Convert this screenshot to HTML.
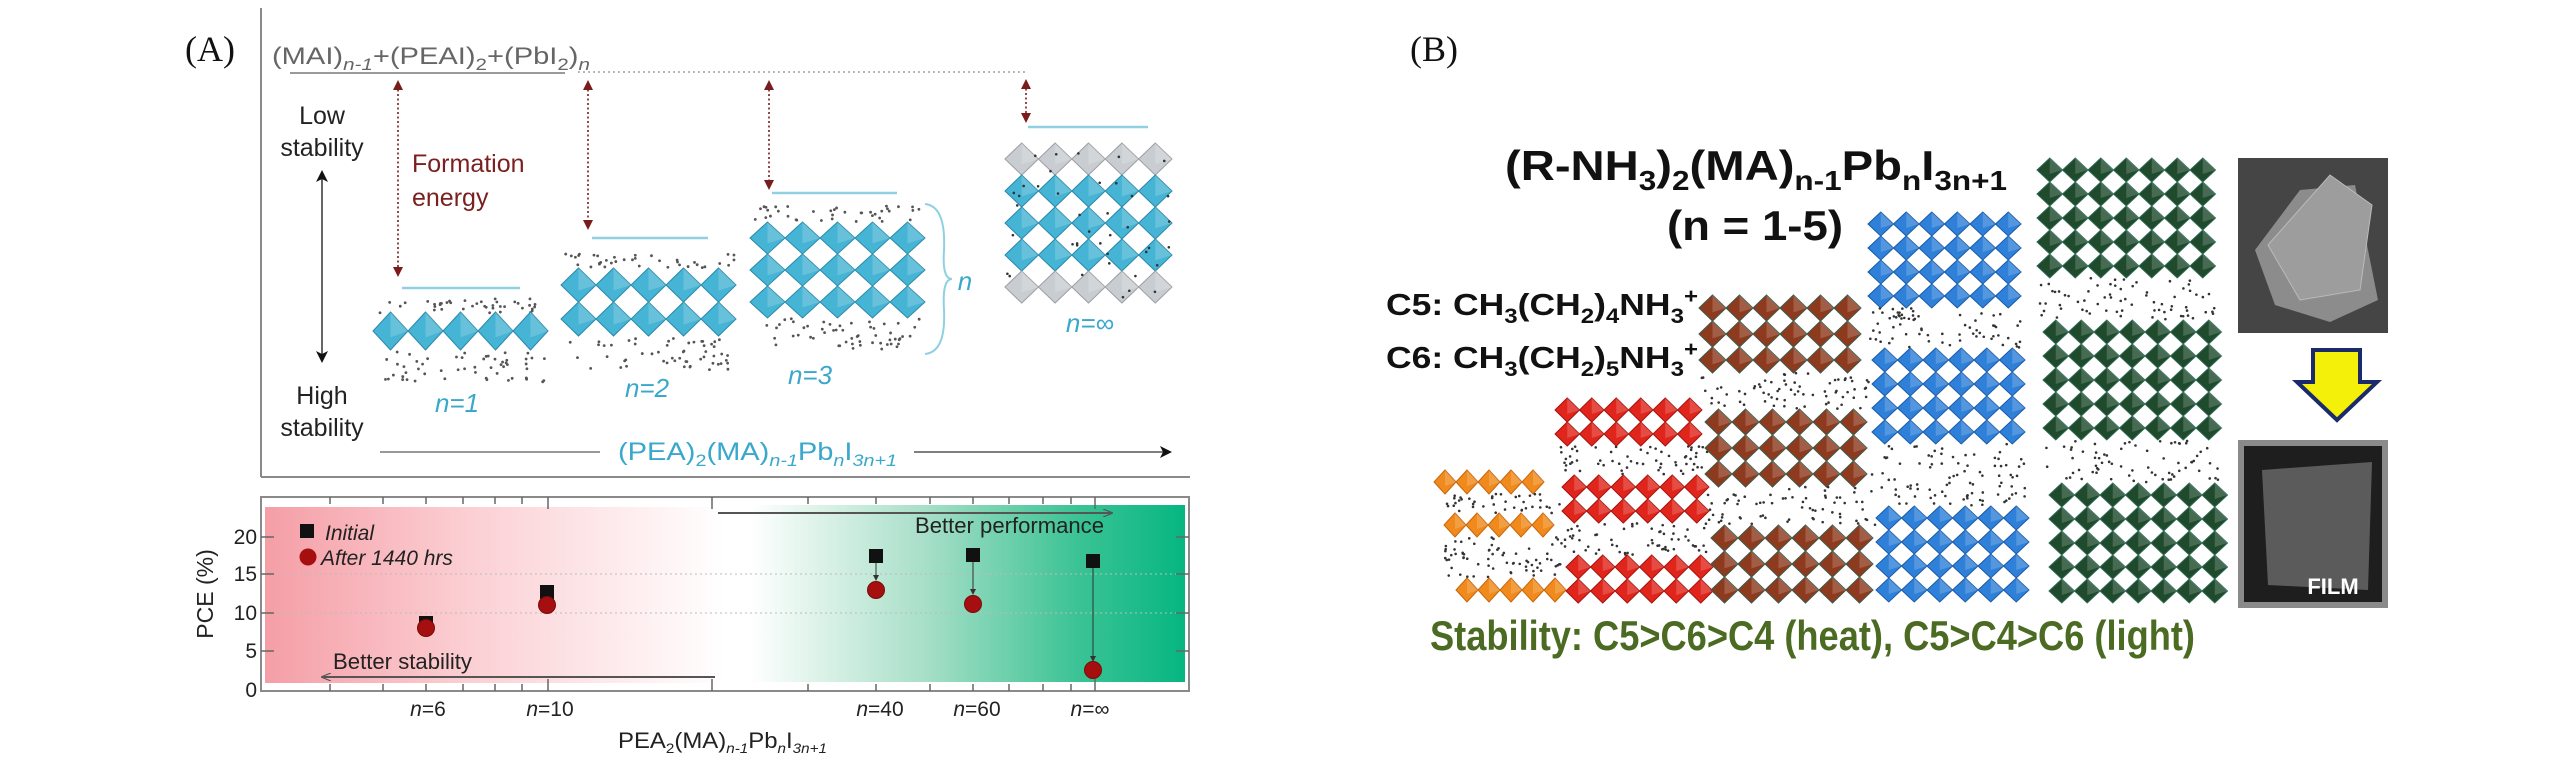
<!DOCTYPE html>
<html><head><meta charset="utf-8">
<style>
html,body{margin:0;padding:0;background:#fff;}
svg{display:block;}
text{font-family:"Liberation Sans",Arial,sans-serif;}
.serif{font-family:"Liberation Serif","Times New Roman",serif;}
</style></head>
<body>
<svg id="s" xmlns="http://www.w3.org/2000/svg" width="2567" height="776" viewBox="0 0 2567 776">
<defs>
<linearGradient id="pink" gradientUnits="userSpaceOnUse" x1="265" y1="0" x2="725" y2="0">
<stop offset="0" stop-color="#f59ea6"/><stop offset="0.45" stop-color="#fbd0d4"/><stop offset="1" stop-color="#ffffff"/>
</linearGradient>
<linearGradient id="green" gradientUnits="userSpaceOnUse" x1="750" y1="0" x2="1185" y2="0">
<stop offset="0" stop-color="#ffffff"/><stop offset="0.4" stop-color="#a8dfc8"/><stop offset="0.75" stop-color="#3cc395"/><stop offset="1" stop-color="#06b681"/>
</linearGradient>
<marker id="ar" markerWidth="10" markerHeight="10" refX="5" refY="5" orient="auto-start-reverse" markerUnits="userSpaceOnUse">
<path d="M0,0 L10,5 L0,10 z" fill="#7b1c1c"/></marker>
<marker id="ak" markerWidth="12" markerHeight="12" refX="6" refY="6" orient="auto-start-reverse" markerUnits="userSpaceOnUse">
<path d="M0,0 L12,6 L0,12 L3,6 z" fill="#111"/></marker>
<marker id="ag" markerWidth="10" markerHeight="8" refX="9" refY="4" orient="auto" markerUnits="userSpaceOnUse">
<path d="M0,0 L10,4 L0,8" fill="none" stroke="#555" stroke-width="1.2"/></marker>
<marker id="as" markerWidth="6" markerHeight="6" refX="3" refY="3" orient="auto" markerUnits="userSpaceOnUse">
<path d="M0,0 L6,3 L0,6 z" fill="#333"/></marker>
</defs>

<text class="serif" x="185" y="61" font-size="36" fill="#111">(A)</text>
<text class="serif" x="1410" y="61" font-size="36" fill="#111">(B)</text>

<line x1="261" y1="8" x2="261" y2="477" stroke="#8a8a8a" stroke-width="2"/>
<line x1="261" y1="477" x2="1190" y2="477" stroke="#8a8a8a" stroke-width="2"/>

<text x="272" y="64" font-size="24" fill="#666" textLength="318" lengthAdjust="spacingAndGlyphs">(MAI)<tspan font-size="17" font-style="italic" dy="6">n-1</tspan><tspan dy="-6">+(PEAI)</tspan><tspan font-size="17" dy="6">2</tspan><tspan dy="-6">+(PbI</tspan><tspan font-size="17" dy="6">2</tspan><tspan dy="-6">)</tspan><tspan font-size="17" font-style="italic" dy="6">n</tspan></text>
<line x1="290" y1="73" x2="565" y2="73" stroke="#9a9a9a" stroke-width="2"/>
<line x1="578" y1="72" x2="1028" y2="72" stroke="#a0a0a0" stroke-width="1.5" stroke-dasharray="2,3"/>

<g stroke="#7b1c1c" stroke-width="1.6" stroke-dasharray="2,2.5" marker-start="url(#ar)" marker-end="url(#ar)">
<line x1="398" y1="85" x2="398" y2="272"/>
<line x1="588" y1="85" x2="588" y2="225"/>
<line x1="769" y1="85" x2="769" y2="185"/>
<line x1="1026" y1="84" x2="1026" y2="118"/>
</g>
<g stroke="#8fd0e3" stroke-width="2.5">
<line x1="402" y1="288" x2="520" y2="288"/>
<line x1="592" y1="238" x2="708" y2="238"/>
<line x1="772" y1="193" x2="897" y2="193"/>
<line x1="1028" y1="127" x2="1148" y2="127"/>
</g>
<text x="412" y="172" font-size="25" fill="#7b2020">Formation</text>
<text x="412" y="206" font-size="25" fill="#7b2020">energy</text>

<g font-size="25" fill="#222" text-anchor="middle">
<text x="322" y="124">Low</text><text x="322" y="156">stability</text>
<text x="322" y="404">High</text><text x="322" y="436">stability</text>
</g>
<line x1="322" y1="176" x2="322" y2="357" stroke="#333" stroke-width="1.5" marker-start="url(#ak)" marker-end="url(#ak)"/>

<g id="structA"></g>

<g font-size="26" fill="#3aa8cc" font-style="italic" text-anchor="middle">
<text x="457" y="412">n=1</text>
<text x="647" y="397">n=2</text>
<text x="810" y="384">n=3</text>
<text x="1090" y="332">n=∞</text>
<text x="965" y="290">n</text>
</g>
<path d="M925,204 Q946,206 944,250 Q942,279 952,279 Q942,279 944,310 Q946,352 925,354" fill="none" stroke="#8fd0e3" stroke-width="2"/>

<line x1="380" y1="452" x2="600" y2="452" stroke="#777" stroke-width="1.5"/>
<text x="618" y="460" font-size="25" fill="#3aa8cc" textLength="279" lengthAdjust="spacingAndGlyphs">(PEA)<tspan font-size="17" dy="6">2</tspan><tspan dy="-6">(MA)</tspan><tspan font-size="17" font-style="italic" dy="6">n-1</tspan><tspan dy="-6">Pb</tspan><tspan font-size="17" font-style="italic" dy="6">n</tspan><tspan dy="-6">I</tspan><tspan font-size="17" font-style="italic" dy="6">3n+1</tspan></text>
<line x1="914" y1="452" x2="1166" y2="452" stroke="#555" stroke-width="1.5" marker-end="url(#ak)"/>

<rect x="265" y="507" width="460" height="176" fill="url(#pink)"/>
<rect x="750" y="505" width="435" height="177" fill="url(#green)"/>
<rect x="261" y="497" width="928" height="194" fill="none" stroke="#8a8a8a" stroke-width="2"/>
<g stroke="#bbb" stroke-width="1" stroke-dasharray="2,3">
<line x1="265" y1="574" x2="1185" y2="574"/>
<line x1="265" y1="613" x2="1185" y2="613"/>
</g>
<g id="ticks" stroke="#666" stroke-width="1.5"></g>
<g font-size="21" fill="#222" text-anchor="end">
<text x="257" y="544">20</text><text x="257" y="581">15</text><text x="257" y="620">10</text><text x="257" y="658">5</text><text x="257" y="697">0</text>
</g>
<text x="0" y="0" font-size="23" fill="#222" text-anchor="middle" transform="translate(213,594) rotate(-90)">PCE (%)</text>

<line x1="718" y1="513" x2="1112" y2="513" stroke="#555" stroke-width="2" marker-end="url(#ag)"/>
<text x="915" y="533" font-size="22" fill="#222" textLength="189" lengthAdjust="spacingAndGlyphs">Better performance</text>
<line x1="715" y1="677" x2="322" y2="677" stroke="#555" stroke-width="2" marker-end="url(#ag)"/>
<text x="333" y="669" font-size="22" fill="#222" textLength="139" lengthAdjust="spacingAndGlyphs">Better stability</text>

<rect x="300" y="524" width="14" height="14" fill="#111"/>
<text x="325" y="540" font-size="21" font-style="italic" fill="#222">Initial</text>
<circle cx="308" cy="557" r="8.5" fill="#a50f0f"/>
<text x="321" y="565" font-size="21" font-style="italic" fill="#222">After 1440 hrs</text>

<g stroke="#333" stroke-width="1">
<line x1="876" y1="563" x2="876" y2="578" marker-end="url(#as)"/>
<line x1="973" y1="562" x2="973" y2="592" marker-end="url(#as)"/>
<line x1="1093" y1="568" x2="1093" y2="659" marker-end="url(#as)"/>
</g>
<g fill="#111">
<rect x="419" y="616" width="14" height="14"/>
<rect x="540" y="585" width="14" height="14"/>
<rect x="869" y="549" width="14" height="14"/>
<rect x="966" y="548" width="14" height="14"/>
<rect x="1086" y="554" width="14" height="14"/>
</g>
<g fill="#a50f0f" stroke="#7a0a0a" stroke-width="1">
<circle cx="426" cy="628" r="8.5"/>
<circle cx="547" cy="605" r="8.5"/>
<circle cx="876" cy="590" r="8.5"/>
<circle cx="973" cy="604" r="8.5"/>
<circle cx="1093" cy="670" r="8.5"/>
</g>
<g font-size="21" fill="#222" text-anchor="middle">
<text x="428" y="716"><tspan font-style="italic">n</tspan>=6</text>
<text x="550" y="716"><tspan font-style="italic">n</tspan>=10</text>
<text x="880" y="716"><tspan font-style="italic">n</tspan>=40</text>
<text x="977" y="716"><tspan font-style="italic">n</tspan>=60</text>
<text x="1090" y="716"><tspan font-style="italic">n</tspan>=∞</text>
</g>
<text x="618" y="748" font-size="22" fill="#222" textLength="209" lengthAdjust="spacingAndGlyphs">PEA<tspan font-size="14" dy="5">2</tspan><tspan dy="-5">(MA)</tspan><tspan font-size="14" font-style="italic" dy="5">n-1</tspan><tspan dy="-5">Pb</tspan><tspan font-size="14" font-style="italic" dy="5">n</tspan><tspan dy="-5">I</tspan><tspan font-size="14" font-style="italic" dy="5">3n+1</tspan></text>

<g id="structB"></g>
<text x="1505" y="180" font-size="42" font-weight="bold" fill="#111" textLength="502" lengthAdjust="spacingAndGlyphs">(R-NH<tspan font-size="28" dy="10">3</tspan><tspan dy="-10">)</tspan><tspan font-size="28" dy="10">2</tspan><tspan dy="-10">(MA)</tspan><tspan font-size="28" dy="10">n-1</tspan><tspan dy="-10">Pb</tspan><tspan font-size="28" dy="10">n</tspan><tspan dy="-10">I</tspan><tspan font-size="28" dy="10">3n+1</tspan></text>
<text x="1667" y="240" font-size="42" font-weight="bold" fill="#111" textLength="176" lengthAdjust="spacingAndGlyphs">(n = 1-5)</text>
<text x="1386" y="315" font-size="31" font-weight="bold" fill="#111" textLength="312" lengthAdjust="spacingAndGlyphs">C5: CH<tspan font-size="21" dy="8">3</tspan><tspan dy="-8">(CH</tspan><tspan font-size="21" dy="8">2</tspan><tspan dy="-8">)</tspan><tspan font-size="21" dy="8">4</tspan><tspan dy="-8">NH</tspan><tspan font-size="21" dy="8">3</tspan><tspan font-size="21" dy="-20">+</tspan></text>
<text x="1386" y="368" font-size="31" font-weight="bold" fill="#111" textLength="312" lengthAdjust="spacingAndGlyphs">C6: CH<tspan font-size="21" dy="8">3</tspan><tspan dy="-8">(CH</tspan><tspan font-size="21" dy="8">2</tspan><tspan dy="-8">)</tspan><tspan font-size="21" dy="8">5</tspan><tspan dy="-8">NH</tspan><tspan font-size="21" dy="8">3</tspan><tspan font-size="21" dy="-20">+</tspan></text>
<text x="1430" y="650" font-size="42" font-weight="bold" fill="#4b6a22" textLength="765" lengthAdjust="spacingAndGlyphs">Stability: C5&gt;C6&gt;C4 (heat), C5&gt;C4&gt;C6 (light)</text>

<rect x="2238" y="158" width="150" height="175" fill="#454545"/>
<polygon points="2255,250 2300,190 2355,185 2378,300 2330,322 2275,305" fill="#8c8c8c"/>
<polygon points="2268,245 2330,175 2372,205 2360,290 2300,300" fill="#9d9d9d" stroke="#bbb" stroke-width="1"/>
<rect x="2238" y="440" width="150" height="168" fill="#8a8a8a"/>
<rect x="2244" y="446" width="138" height="156" fill="#1e1e1e"/>
<polygon points="2262,470 2372,462 2368,590 2268,585" fill="#5b5b5b"/>
<text x="2333" y="594" font-size="22" font-weight="bold" fill="#fff" text-anchor="middle">FILM</text>
<polygon points="2313,350 2360,350 2360,382 2377,382 2337,420 2297,382 2313,382" fill="#f5f00a" stroke="#1b2a6b" stroke-width="4" stroke-linejoin="miter"/>
</svg>
<script>
(function(){
var NS="http://www.w3.org/2000/svg";
function el(p,t,a){var e=document.createElementNS(NS,t);for(var k in a)e.setAttribute(k,a[k]);p.appendChild(e);return e;}
var seed=7;function rnd(){seed=(seed*16807)%2147483647;return seed/2147483647;}
function lat(g,x0,y0,cols,rows,w,h,fill,stroke,shear){
  for(var j=0;j<rows;j++)for(var i=0;i<cols;i++){
    var cx=x0+w/2+i*w+(shear||0)*j, cy=y0+h/2+j*h;
    el(g,'polygon',{points:(cx)+','+(cy-h/2)+' '+(cx+w/2)+','+cy+' '+cx+','+(cy+h/2)+' '+(cx-w/2)+','+cy,fill:fill,stroke:stroke,'stroke-width':1});
    el(g,'polygon',{points:(cx)+','+(cy-h/2)+' '+(cx+w/2)+','+cy+' '+cx+','+(cy+h/6),fill:'rgba(255,255,255,0.18)'});
  }
}
function org(g,x0,y0,x1,y1,n,col,r){
  for(var k=0;k<n;k++){el(g,'circle',{cx:x0+rnd()*(x1-x0),cy:y0+rnd()*(y1-y0),r:r,fill:col});}
}
var A=document.getElementById('structA');
var blue='#46b4d4',bst='#2a89aa';
org(A,380,298,545,314,40,'#555',1.4);
lat(A,373,312,5,1,35,38,blue,bst);
org(A,385,352,545,382,55,'#555',1.4);
org(A,565,254,735,268,38,'#555',1.4);
lat(A,561,268,5,2,35,34,blue,bst);
org(A,570,338,735,370,55,'#555',1.4);
org(A,755,206,920,222,38,'#555',1.4);
lat(A,750,222,5,3,35,32,blue,bst);
org(A,760,318,920,350,55,'#555',1.4);
lat(A,1005,143,5,1,33.4,32,'#c9cdd1','#9aa0a5');
lat(A,1005,175,5,3,33.4,32,blue,bst);
lat(A,1005,271,5,1,33.4,32,'#c9cdd1','#9aa0a5');
org(A,1005,150,1172,300,40,'#333',1.3);

var B=document.getElementById('structB');
lat(B,1434,470,5,1,22,24,'#f08a1c','#c8650a');
org(B,1440,494,1560,513,40,'#333',1.3);
lat(B,1444,513,5,1,22,24,'#f08a1c','#c8650a');
org(B,1445,537,1565,578,70,'#333',1.3);
lat(B,1456,578,5,1,22,24,'#f08a1c','#c8650a');
lat(B,1555,398,6,2,24.5,24,'#e0261c','#a8120c');
org(B,1560,446,1710,475,60,'#333',1.3);
lat(B,1562,475,6,2,24.5,24,'#e0261c','#a8120c');
org(B,1565,523,1712,555,60,'#333',1.3);
lat(B,1566,555,6,2,24.5,24,'#e0261c','#a8120c');
lat(B,1699,295,6,3,27,26,'#8e3a1e','#3d5a4a');
org(B,1700,373,1870,409,70,'#333',1.3);
lat(B,1705,409,6,3,27,26,'#8e3a1e','#3d5a4a');
org(B,1705,487,1875,525,70,'#333',1.3);
lat(B,1711,525,6,3,27,26,'#8e3a1e','#3d5a4a');
lat(B,1868,212,6,4,25.5,24,'#2f80d8','#1a5aa8');
org(B,1868,308,2023,348,70,'#333',1.3);
lat(B,1872,348,6,4,25.5,24,'#2f80d8','#1a5aa8');
org(B,1872,444,2028,506,90,'#333',1.3);
lat(B,1876,506,6,4,25.5,24,'#2f80d8','#1a5aa8');
lat(B,2037,158,7,5,25.5,24,'#1f4a2c','#2f6a55');
org(B,2040,278,2215,320,70,'#333',1.3);
lat(B,2043,320,7,5,25.5,24,'#1f4a2c','#2f6a55');
org(B,2045,440,2220,483,70,'#333',1.3);
lat(B,2049,483,7,5,25.5,24,'#1f4a2c','#2f6a55');

var T=document.getElementById('ticks');
var xs=[330,383,426,463,495,522,548,712,808,876,930,973,1009,1043,1071,1095];
var major=[548,712,1095];
xs.forEach(function(x){var L=major.indexOf(x)>=0?12:7;
 el(T,'line',{x1:x,y1:497,x2:x,y2:497+L});el(T,'line',{x1:x,y1:691,x2:x,y2:691-L});});
[537,574,613,651].forEach(function(y){el(T,'line',{x1:261,y1:y,x2:274,y2:y});el(T,'line',{x1:1176,y1:y,x2:1189,y2:y});});
})();
</script>
</body></html>
